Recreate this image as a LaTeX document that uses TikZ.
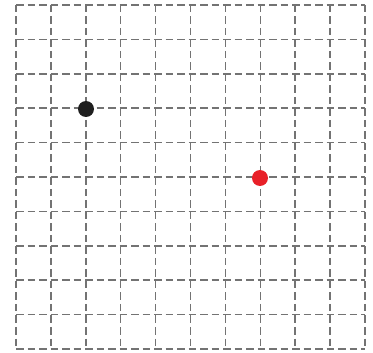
\documentclass[tikz,border=0pt]{standalone}
\definecolor{dotred}{RGB}{232,32,40}
\definecolor{gridgray}{RGB}{115,115,115}
\begin{document}
\begin{tikzpicture}[x=1pt,y=-1pt,
  gridline/.style={draw=gridgray, line width=1.5pt, dash pattern=on 7.5pt off 4pt},
  dot/.style={circle, inner sep=0pt, minimum size=16pt}]
\useasboundingbox (0,0) rectangle (373,353);
\foreach \i in {0,...,10} {
  \pgfmathsetmacro{\xx}{16+\i*34.9}
  \pgfmathsetmacro{\yy}{5+\i*34.4}
  \draw[gridline] (\xx,5) -- (\xx,349);
  \draw[gridline] (16,\yy) -- (365,\yy);
}
\node[dot, fill=black!88] (b) at (86,109) {};
\node[dot, fill=dotred] (r) at (260,178) {};
\end{tikzpicture}
\end{document}
